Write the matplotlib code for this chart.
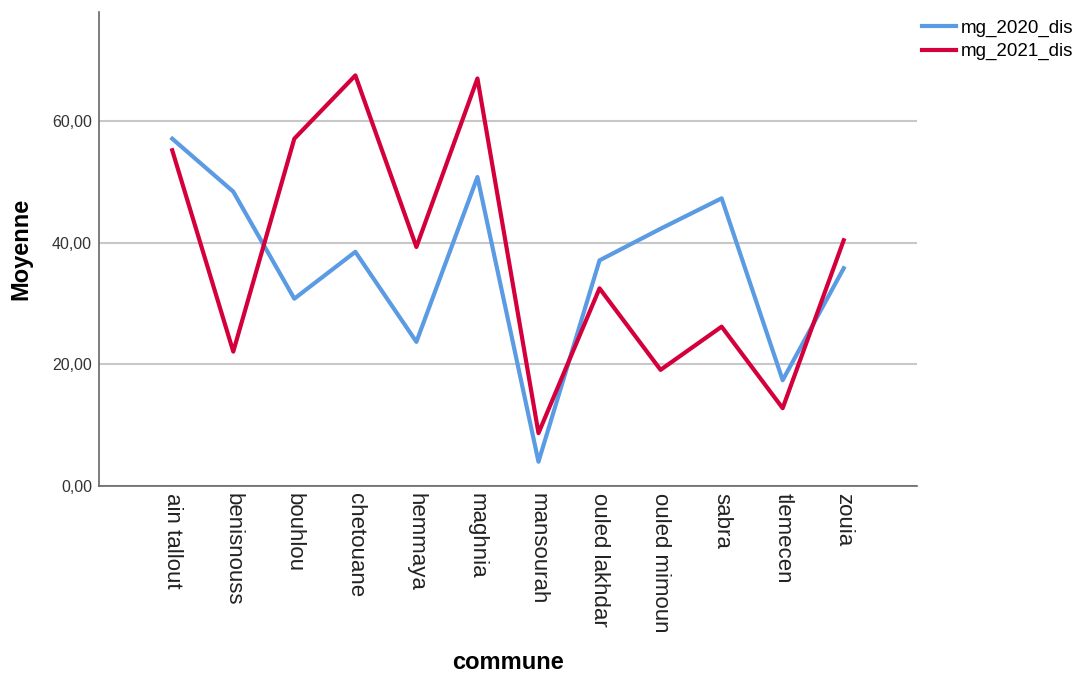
# line chart of mean values per commune
import numpy as np
import matplotlib.pyplot as plt

communes = ['ain tallout', 'benisnouss', 'bouhlou', 'chetouane', 'hemmaya', 'maghnia',
            'mansourah', 'ouled lakhdar', 'ouled mimoun', 'sabra', 'tlemecen', 'zouia']
mg_2020 = [57.1, 48.4, 30.8, 38.5, 23.7, 50.8, 4.0, 37.1, 42.3, 47.3, 17.4, 35.8]
mg_2021 = [55.2, 22.1, 57.1, 67.5, 39.3, 67.0, 8.7, 32.5, 19.1, 26.2, 12.8, 40.4]
yticks = [0, 20, 40, 60]
ytick_labels = ['0,00', '20,00', '40,00', '60,00']

plt.rcParams['font.family'] = ['Liberation Sans', 'DejaVu Sans']

fig = plt.figure(figsize=(10.77, 6.76), dpi=100)
ax = fig.add_axes([0.0919, 0.281, 0.7595, 0.701])

x = np.arange(len(communes))
ax.plot(x, mg_2020, color='#5a9be3', lw=3, label='mg_2020_dis', zorder=3)
ax.plot(x, mg_2021, color='#d3003b', lw=3, label='mg_2021_dis', zorder=3)

ax.set_xlim(-1.2, 12.2)
ax.set_ylim(0, 77.9)
ax.set_yticks(yticks)
ax.set_yticklabels(ytick_labels, fontsize=11.5, color='#333333')
ax.set_xticks(x)
ax.set_xticklabels(communes, rotation=270, fontsize=16, color='#222222')
ax.tick_params(length=0, pad=5)
ax.grid(axis='y', color='#c8c8c8', lw=1.5, zorder=0)

for s in ['top', 'right']:
    ax.spines[s].set_visible(False)
for s in ['left', 'bottom']:
    ax.spines[s].set_color('#666666')
    ax.spines[s].set_linewidth(1.2)

ax.set_ylabel('Moyenne', fontsize=17, fontweight='bold', labelpad=14)
fig.text(0.472, 0.02, 'commune', fontsize=17, fontweight='bold', ha='center', va='center')

fig.legend(loc='upper left', bbox_to_anchor=(0.856, 0.971), frameon=False,
           borderpad=0, borderaxespad=0,
           fontsize=13.5, handlelength=1.8, handletextpad=0.3, labelspacing=0.33)

plt.savefig('out.png', dpi=100)
